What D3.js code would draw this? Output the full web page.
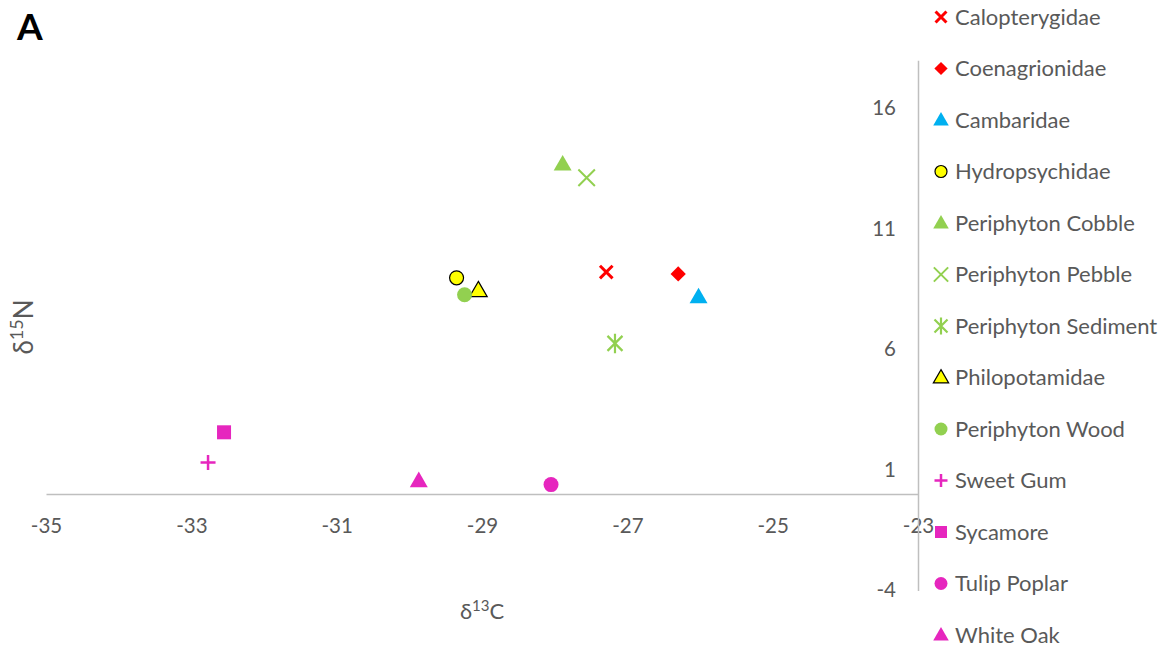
<!DOCTYPE html>
<html>
<head>
<meta charset="utf-8">
<script src="https://cdn.jsdelivr.net/npm/d3@7"></script>
<style>
  html, body { margin: 0; padding: 0; background: #fff; }
  svg { display: block; }
  text { font-family: Lato, "Open Sans", sans-serif; }
</style>
</head>
<body>
<svg id="chart" width="1169" height="649"></svg>
<script>
// Stable isotope values per taxon / source
const seriesNames = ["Calopterygidae", "Coenagrionidae", "Cambaridae", "Hydropsychidae",
  "Periphyton Cobble", "Periphyton Pebble", "Periphyton Sediment", "Philopotamidae",
  "Periphyton Wood", "Sweet Gum", "Sycamore", "Tulip Poplar", "White Oak"];
const d13C = [-27.29, -26.30, -26.02, -29.35, -27.89, -27.56, -27.17, -29.05, -29.24, -32.77, -32.55, -28.05, -29.87];
const d15N = [9.21, 9.13, 8.17, 8.97, 13.68, 13.12, 6.25, 8.44, 8.27, 1.31, 2.56, 0.39, 0.54];
const markerShapes = ["xbold", "diamond", "triangle", "circleOutlined", "triangle", "x", "asterisk",
  "triangleOutlined", "circle", "plus", "square", "circle", "triangle"];
const markerColors = ["#FF0000", "#FF0000", "#00B0F0", "#FFFF00", "#92D050", "#92D050", "#92D050",
  "#FFFF00", "#92D050", "#E626BE", "#E626BE", "#E626BE", "#E626BE"];

const xTicks = [-35, -33, -31, -29, -27, -25, -23];
const yTicks = [-4, 1, 6, 11, 16];

const svg = d3.select("#chart");
const x = d3.scaleLinear().domain([-35, -23]).range([46, 918]);
const y = d3.scaleLinear().domain([-4, 18]).range([590.4, 60.2]);

const axisColor = "#BFBFBF";
const textColor = "#595959";
const plainNumber = d => String(d);

// x axis crossing at y = 0
const gx = svg.append("g")
  .attr("transform", `translate(0,${y(0)})`)
  .call(d3.axisBottom(x).tickValues(xTicks).tickSize(0).tickFormat(plainNumber));
// y axis crossing at x = -23
const gy = svg.append("g")
  .attr("transform", `translate(${x(-23)},0)`)
  .call(d3.axisLeft(y).tickValues(yTicks).tickSize(0).tickPadding(22).tickFormat(plainNumber));

[gx, gy].forEach(g => {
  g.select(".domain").attr("stroke", axisColor).attr("stroke-width", 1.5);
  g.selectAll("text").attr("fill", textColor).attr("font-size", 20.5)
    .attr("font-family", "Lato, 'Open Sans', sans-serif");
});
gx.selectAll("text").attr("y", 39).attr("dy", 0);

// Marker drawing
function drawMarker(g, shape, color, size) {
  const s = size;
  switch (shape) {
    case "triangle":
      g.append("path").attr("d", d3.symbol(d3.symbolTriangle, s * s * 0.62)())
        .attr("transform", "translate(0,1)").attr("fill", color);
      break;
    case "triangleOutlined":
      g.append("path").attr("d", d3.symbol(d3.symbolTriangle, s * s * 0.6)())
        .attr("transform", "translate(0,1)").attr("fill", color).attr("stroke", "#000").attr("stroke-width", 1.2);
      break;
    case "circle":
      g.append("circle").attr("r", s / 2).attr("fill", color);
      break;
    case "circleOutlined":
      g.append("circle").attr("r", s / 2 - 0.5).attr("fill", color).attr("stroke", "#000").attr("stroke-width", 1.2);
      break;
    case "diamond":
      g.append("rect").attr("x", -s * 0.36).attr("y", -s * 0.36).attr("width", s * 0.72).attr("height", s * 0.72)
        .attr("transform", "rotate(45)").attr("fill", color);
      break;
    case "square":
      g.append("rect").attr("x", -s / 2 + 0.5).attr("y", -s / 2 + 0.5).attr("width", s - 1).attr("height", s - 1).attr("fill", color);
      break;
    case "xbold": {
      const h = s * 0.42;
      g.append("path").attr("d", `M${-h},${-h}L${h},${h}M${-h},${h}L${h},${-h}`)
        .attr("stroke", color).attr("stroke-width", 3).attr("fill", "none");
      break;
    }
    case "x": {
      const h = s * 0.55;
      g.append("path").attr("d", `M${-h},${-h}L${h},${h}M${-h},${h}L${h},${-h}`)
        .attr("stroke", color).attr("stroke-width", 2).attr("fill", "none");
      break;
    }
    case "asterisk": {
      const h = s * 0.5;
      g.append("path").attr("d", `M${-h},${-h}L${h},${h}M${-h},${h}L${h},${-h}M0,${-h * 1.3}L0,${h * 1.3}`)
        .attr("stroke", color).attr("stroke-width", 2.2).attr("fill", "none");
      break;
    }
    case "plus": {
      const h = s * 0.5;
      g.append("path").attr("d", `M${-h},0L${h},0M0,${-h}L0,${h}`)
        .attr("stroke", color).attr("stroke-width", 2.5).attr("fill", "none");
      break;
    }
  }
}

// Points
const pts = svg.append("g");
seriesNames.forEach((name, i) => {
  const g = pts.append("g").attr("transform", `translate(${x(d13C[i])},${y(d15N[i])})`);
  drawMarker(g, markerShapes[i], markerColors[i], 15);
});

// Legend
const legend = svg.append("g");
seriesNames.forEach((name, i) => {
  const cy = 17 + i * 51.5;
  const g = legend.append("g").attr("transform", `translate(941,${cy})`);
  drawMarker(g.append("g"), markerShapes[i], markerColors[i], 13);
  g.append("text").attr("x", 14).attr("y", 0).attr("dy", "0.35em")
    .attr("fill", textColor).attr("font-size", 22).text(name);
});

// Panel letter
svg.append("text").attr("x", 17).attr("y", 40).attr("font-family", "Arial, 'Liberation Sans', sans-serif")
  .attr("font-weight", "bold").attr("font-size", 37).attr("fill", "#000").text("A");

// Axis titles
const xt = svg.append("text").attr("x", 482).attr("y", 619).attr("text-anchor", "middle")
  .attr("fill", textColor).attr("font-size", 22);
xt.append("tspan").text("δ");
xt.append("tspan").attr("font-size", 15).attr("dy", -8).text("13");
xt.append("tspan").attr("dy", 8).text("C");

const yt = svg.append("text").attr("transform", "translate(33,327) rotate(-90)").attr("text-anchor", "middle")
  .attr("fill", textColor).attr("font-size", 26);
yt.append("tspan").text("δ");
yt.append("tspan").attr("font-size", 18).attr("dy", -10).text("15");
yt.append("tspan").attr("dy", 10).text("N");
</script>
</body>
</html>
